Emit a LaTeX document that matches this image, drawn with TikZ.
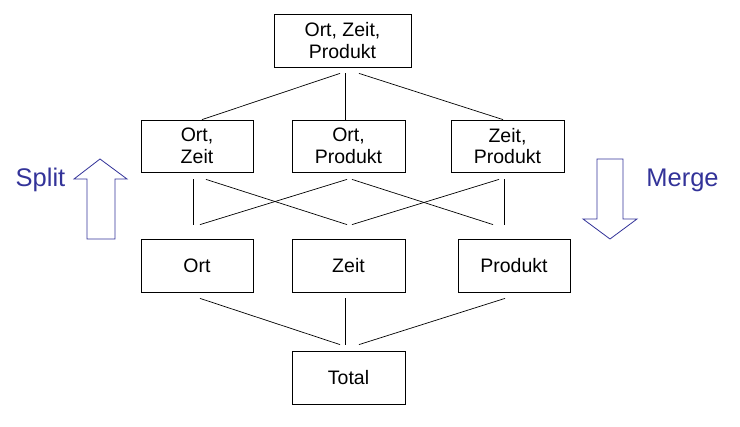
\documentclass[tikz,border=0pt]{standalone}
\usepackage{fontspec}
\setmainfont{Liberation Sans}
\usetikzlibrary{calc}
\definecolor{splitblue}{RGB}{51,51,153}
\begin{document}
\begin{tikzpicture}[x=1pt,y=-1pt,
  box/.style={draw,line width=0.8pt,minimum height=53pt,inner sep=0pt,align=center,
    font=\fontsize{19.5}{21.5}\selectfont},
  conn/.style={line width=0.7pt},
  bigarrow/.style={draw=splitblue,line width=0.8pt,fill=white,line join=miter},
  label/.style={text=splitblue,font=\fontsize{25.5}{28}\selectfont,anchor=base,inner sep=0pt}]
\useasboundingbox (0,0) rectangle (740,427);
\node[box,minimum width=137pt] (top) at (342.5,40.5) {Ort, Zeit,\\Produkt};
\node[box,minimum width=112pt,minimum height=52pt] (oz) at (197,146) {Ort,\\Zeit};
\node[box,minimum width=113pt,minimum height=52pt] (op) at (348.5,146) {Ort,\\Produkt};
\node[box,minimum width=113pt,minimum height=52pt] (zp) at (507.5,146) {Zeit,\\Produkt};
\node[box,minimum width=112pt] (o) at (197,265.5) {Ort};
\node[box,minimum width=113pt] (z) at (348.5,265.5) {Zeit};
\node[box,minimum width=112pt] (p) at (514,265.5) {Produkt};
\node[box,minimum width=113pt] (t) at (348.5,377.5) {Total};
% top to row 2
\draw[conn] ($(top.south)+(-2.5,6)$) -- ($(oz.north)+(5,0)$);
\draw[conn] ($(top.south)+(2.5,6)$) -- ($(op.north)+(-3.5,0)$);
\draw[conn] ($(top.south)+(16.5,6)$) -- ($(zp.north)+(-4.5,0)$);
% row 2 to row 3
\draw[conn] ($(oz.south)+(-4,7)$) -- ($(o.north)+(-4,-14)$);
\draw[conn] ($(oz.south)+(9,7)$) -- ($(z.north)+(-1.5,-14)$);
\draw[conn] ($(op.south)+(-1.5,7)$) -- ($(o.north)+(3,-14)$);
\draw[conn] ($(op.south)+(3.5,7)$) -- ($(p.north)+(-21,-14)$);
\draw[conn] ($(zp.south)+(-8.5,7)$) -- ($(z.north)+(3.5,-14)$);
\draw[conn] ($(zp.south)+(-3.5,7)$) -- ($(p.north)+(-10,-14)$);
% row 3 to total
\draw[conn] ($(o.south)+(3,6)$) -- ($(t.north)+(-8.5,-6)$);
\draw[conn] ($(z.south)+(-3.5,6)$) -- ($(t.north)+(-3.5,-6)$);
\draw[conn] ($(p.south)+(-9,6)$) -- ($(t.north)+(10.5,-6)$);
% big arrows
\draw[bigarrow] (100,159) -- (127,179) -- (115,179) -- (115,239) -- (87,239) -- (87,179) -- (74,179) -- cycle;
\draw[bigarrow] (610,239) -- (637,219) -- (623,219) -- (623,159) -- (597,159) -- (597,219) -- (583,219) -- cycle;
\node[label] (split) at (40.5,187) {Split};
\node[label] (merge) at (682.5,187) {Merge};
\end{tikzpicture}
\end{document}
